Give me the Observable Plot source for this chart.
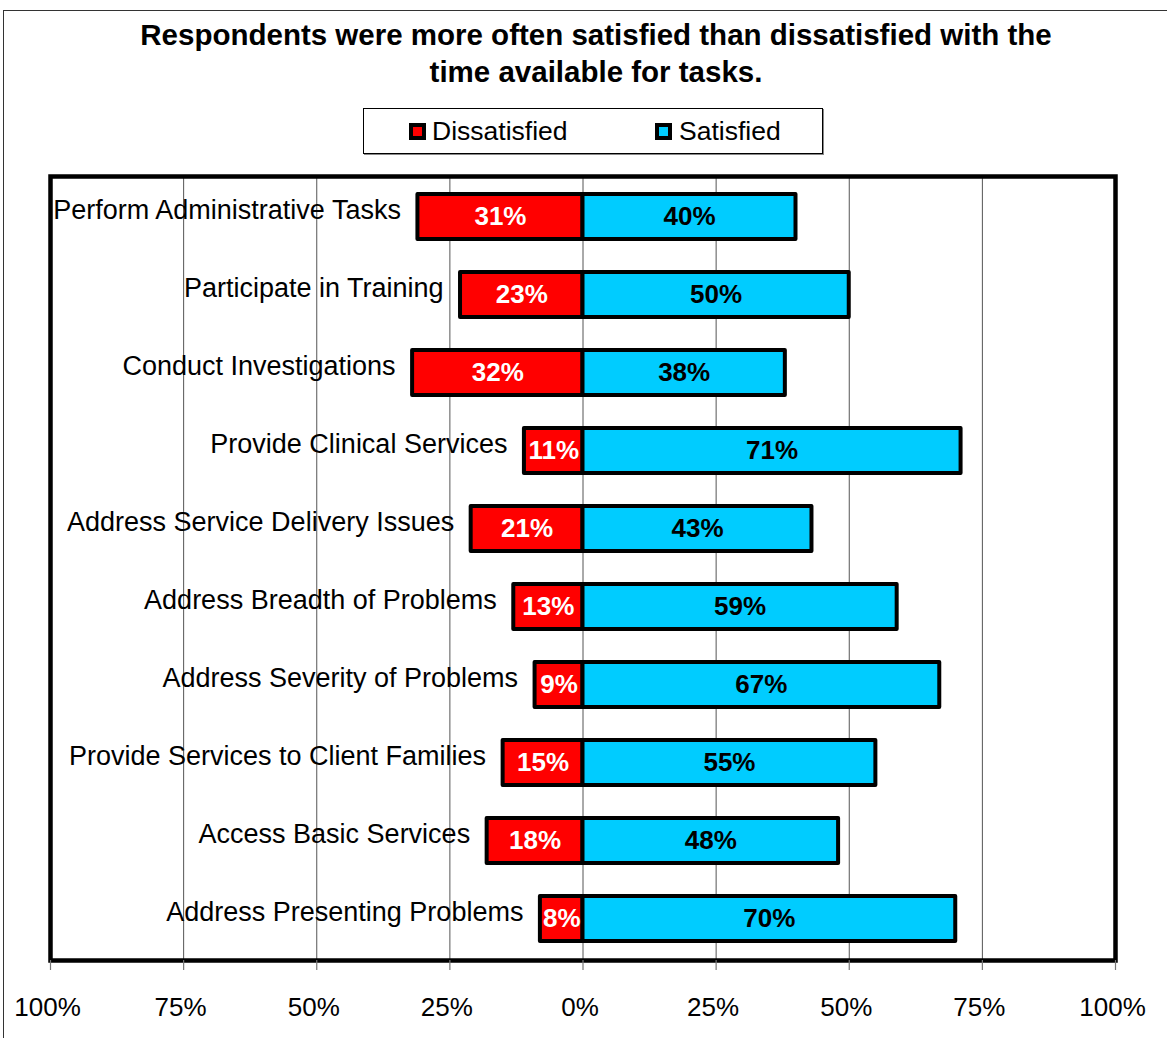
<!DOCTYPE html>
<html>
<head>
<meta charset="utf-8">
<script src="https://cdn.jsdelivr.net/npm/d3@7"></script>
<script src="https://cdn.jsdelivr.net/npm/@observablehq/plot@0.6"></script>
<style>
  html, body { margin: 0; padding: 0; background: #fff; }
  #page { position: relative; width: 1167px; height: 1038px; overflow: hidden; font-family: "Liberation Sans", Arial, sans-serif; background: #fff; }
  #outer { position: absolute; left: 3px; top: 10px; width: 1200px; height: 1100px; border-left: 1.5px solid #333; border-top: 1.5px solid #333; }
  #title { position: absolute; left: 20px; width: 1152px; top: 16px; text-align: center; font-weight: bold; font-size: 29.5px; line-height: 37px; color: #000; }
  #legend { position: absolute; left: 363px; top: 108px; width: 458px; height: 44px; border: 1px solid #000; box-shadow: 1px 1px 0 #888; background: #fff; }
  .sw { position: absolute; top: 14px; width: 9px; height: 9px; border: 4px solid #000; }
  .lt { position: absolute; top: 7px; font-size: 26.5px; line-height: 30px; color: #000; }
  #chart { position: absolute; left: 0; top: 160px; }
</style>
</head>
<body>
<div id="page">
  <div id="outer"></div>
  <div id="title">Respondents were more often satisfied than dissatisfied with the<br>time available for tasks.</div>
  <div id="legend"></div>
  <div id="chart"></div>
</div>
<script>
const categories = [
  "Perform Administrative Tasks",
  "Participate in Training",
  "Conduct Investigations",
  "Provide Clinical Services",
  "Address Service Delivery Issues",
  "Address Breadth of Problems",
  "Address Severity of Problems",
  "Provide Services to Client Families",
  "Access Basic Services",
  "Address Presenting Problems"
];
const dissatisfied = [31, 23, 32, 11, 21, 13, 9, 15, 18, 8];
const satisfied = [40, 50, 38, 71, 43, 59, 67, 55, 48, 70];
const seriesNames = ["Dissatisfied", "Satisfied"];
const seriesColors = ["#FF0000", "#00CCFF"];
const xTicks = [-100, -75, -50, -25, 0, 25, 50, 75, 100];

const rows = categories.map((c, i) => ({cat: c, dis: dissatisfied[i], sat: satisfied[i]}));

// Legend
const legend = document.getElementById("legend");
const legendPos = [[45, 68], [291, 315]];
seriesNames.forEach((name, i) => {
  const sw = document.createElement("div");
  sw.className = "sw";
  sw.style.left = legendPos[i][0] + "px";
  sw.style.background = seriesColors[i];
  legend.appendChild(sw);
  const t = document.createElement("div");
  t.className = "lt";
  t.style.left = legendPos[i][1] + "px";
  t.textContent = name;
  legend.appendChild(t);
});

const chart = Plot.plot({
  width: 1167,
  height: 878,
  marginLeft: 50,
  marginRight: 52,
  marginTop: 16,
  marginBottom: 78,
  style: {fontFamily: "'Liberation Sans', Arial, sans-serif", background: "transparent", overflow: "visible"},
  x: {domain: [-100, 100], label: null},
  y: {domain: categories, paddingInner: 0.42, paddingOuter: 0.21, axis: null},
  marks: [
    Plot.ruleX(xTicks.filter(d => Math.abs(d) < 100), {stroke: "#555", strokeWidth: 1}),
    Plot.barX(rows, {x: d => -d.dis, y: "cat", fill: seriesColors[0], stroke: "#000", strokeWidth: 4, strokeLinejoin: "round"}),
    Plot.barX(rows, {x: "sat", y: "cat", fill: seriesColors[1], stroke: "#000", strokeWidth: 4, strokeLinejoin: "round"}),
    Plot.text(rows, {x: d => -d.dis, y: "cat", text: "cat", textAnchor: "end", dx: -17, dy: -7, fontSize: 27, fill: "#000"}),
    Plot.text(rows, {x: d => -d.dis / 2, y: "cat", text: d => d.dis + "%", fontSize: 26, fontWeight: "bold", fill: "#fff"}),
    Plot.text(rows, {x: d => d.sat / 2, y: "cat", text: d => d.sat + "%", fontSize: 26, fontWeight: "bold", fill: "#000"}),
    Plot.frame({stroke: "#000", strokeWidth: 4.5}),
    Plot.axisX({ticks: xTicks, tickSize: 10, tickFormat: () => "", stroke: "#777", strokeWidth: 1.2, label: null}),
    Plot.axisX({ticks: xTicks, tickSize: 0, tickPadding: 37, tickFormat: d => Math.abs(d) + "%", fontSize: 26, fill: "#000", dx: -3, label: null})
  ]
});
document.getElementById("chart").appendChild(chart);
</script>
</body>
</html>
